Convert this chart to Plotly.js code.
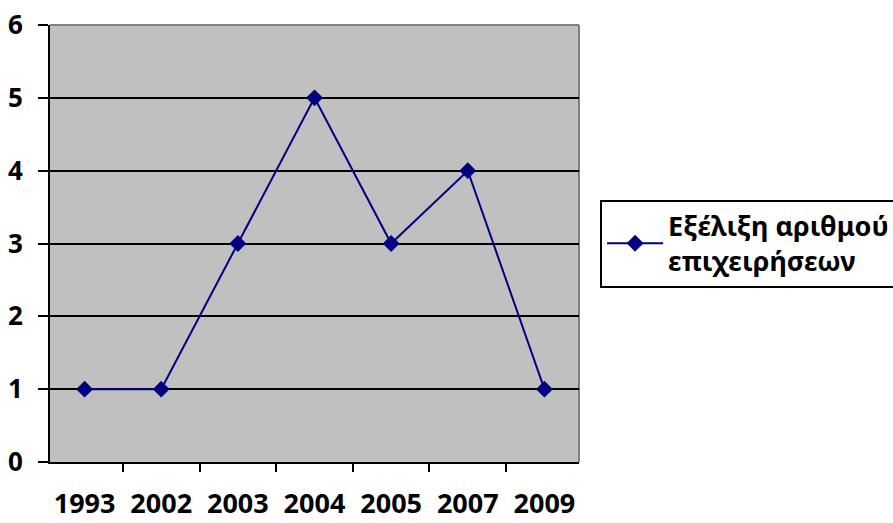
<!DOCTYPE html>
<html>
<head>
<meta charset="utf-8">
<script src="https://cdn.plot.ly/plotly-3.0.1.min.js"></script>
<style>html,body{margin:0;padding:0;background:#fff;}#chart{width:893px;height:523px;}</style>
</head>
<body>
<div id="chart"></div>
<script>
var years = ["1993", "2002", "2003", "2004", "2005", "2007", "2009"];
var businessCount = [1, 1, 3, 5, 3, 4, 1];
var seriesName = "Εξέλιξη αριθμού<br>επιχειρήσεων";
var yTicks = [0, 1, 2, 3, 4, 5, 6];

var font = "'Noto Sans', 'Open Sans', sans-serif";

var trace = {
  x: years,
  y: businessCount,
  type: "scatter",
  mode: "lines+markers",
  name: seriesName,
  line: {color: "#000080", width: 2},
  marker: {symbol: "diamond", size: 13, color: "#000080"},
  showlegend: true
};

var layout = {
  width: 893,
  height: 523,
  margin: {l: 50, r: 314, t: 25, b: 61},
  paper_bgcolor: "#ffffff",
  plot_bgcolor: "#c0c0c0",
  font: {family: font, color: "#000", size: 22},
  showlegend: true,
  xaxis: {
    type: "category",
    tickson: "boundaries",
    ticks: "outside",
    ticklen: 8,
    tickwidth: 2,
    tickcolor: "#000",
    showline: true,
    linecolor: "#000",
    linewidth: 2,
    showgrid: false,
    zeroline: false,
    ticklabelstandoff: 17,
    tickfont: {family: font, size: 27, color: "#000", weight: "bold"},
    fixedrange: true
  },
  yaxis: {
    range: [0, 6],
    tickvals: yTicks,
    ticks: "outside",
    ticklen: 10,
    tickwidth: 2,
    tickcolor: "#000",
    showline: true,
    linecolor: "#000",
    linewidth: 2,
    showgrid: true,
    gridcolor: "#000",
    gridwidth: 2,
    zeroline: false,
    ticklabelstandoff: 10,
    tickfont: {family: font, size: 26, color: "#000", weight: "bold"},
    fixedrange: true
  },
  shapes: [
    {type: "line", xref: "paper", yref: "paper", x0: 0, x1: 1, y0: 1, y1: 1, line: {color: "#808080", width: 2}, layer: "below"},
    {type: "line", xref: "paper", yref: "paper", x0: 1, x1: 1, y0: 0, y1: 1, line: {color: "#808080", width: 2}, layer: "below"}
  ],
  legend: {
    xref: "container",
    yref: "container",
    x: 0.672,
    xanchor: "left",
    y: 0.534,
    yanchor: "middle",
    itemwidth: 56,
    bgcolor: "#ffffff",
    bordercolor: "#000",
    borderwidth: 2,
    font: {family: font, size: 27, color: "#000", weight: "bold"}
  }
};

Plotly.newPlot("chart", [trace], layout, {displayModeBar: false, staticPlot: true});
</script>
</body>
</html>
